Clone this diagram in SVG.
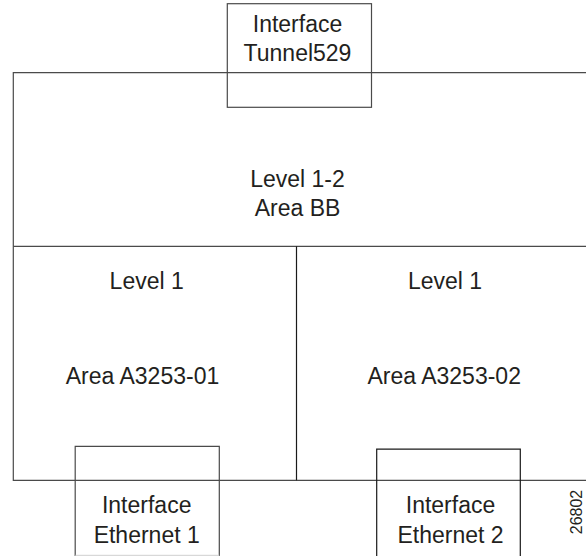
<svg xmlns="http://www.w3.org/2000/svg" width="586" height="556" viewBox="0 0 586 556">
<style>
.ln{fill:none;stroke:#4a4a4a;stroke-width:1.2}
.dk{fill:none;stroke:#1a1a1a;stroke-width:1.2}
.t{font-family:"Liberation Sans",Arial,Helvetica,sans-serif;font-size:23px;fill:#231f20;text-anchor:middle}
.id{font-family:"Liberation Sans",Arial,Helvetica,sans-serif;font-size:16px;fill:#231f20;text-anchor:middle}
</style>
<rect width="586" height="556" fill="#ffffff"/>
<g id="area-bb">
<path class="ln" d="M590,72.7 H13.3 V480.3 H590"/>
<path class="ln" d="M13.3,246.3 H590"/>
<text class="t" x="297.5" y="186.7">Level 1-2</text>
<text class="t" x="297.5" y="215.7">Area BB</text>
</g>
<g id="area-a3253-01">
<text class="t" x="146.7" y="289">Level 1</text>
<text class="t" x="142.5" y="384.3">Area A3253-01</text>
</g>
<g id="area-a3253-02">
<path class="dk" d="M296.5,246.3 V480.3"/>
<text class="t" x="445" y="289">Level 1</text>
<text class="t" x="444.2" y="384.3">Area A3253-02</text>
</g>
<g id="if-tunnel529">
<rect class="ln" x="227.3" y="3.7" width="144.2" height="103.6"/>
<text class="t" x="297.5" y="32.3">Interface</text>
<text class="t" x="297.5" y="61">Tunnel529</text>
</g>
<g id="if-ethernet1">
<path class="ln" d="M75.2,557 V446.3 H219.3 V557"/>
<path d="M75.2,555.3 H219.3" fill="none" stroke="#cfcfcf" stroke-width="1"/>
<text class="t" x="146.7" y="513.3">Interface</text>
<text class="t" x="146.7" y="542.7">Ethernet 1</text>
</g>
<g id="if-ethernet2">
<path class="dk" d="M376.7,557 V449.2 H520.3 V557"/>
<text class="t" x="450.5" y="513.3">Interface</text>
<text class="t" x="450.5" y="542.7">Ethernet 2</text>
</g>
<g id="connectors"></g>
<text class="id" transform="translate(581.5,512) rotate(-90)">26802</text>
</svg>
